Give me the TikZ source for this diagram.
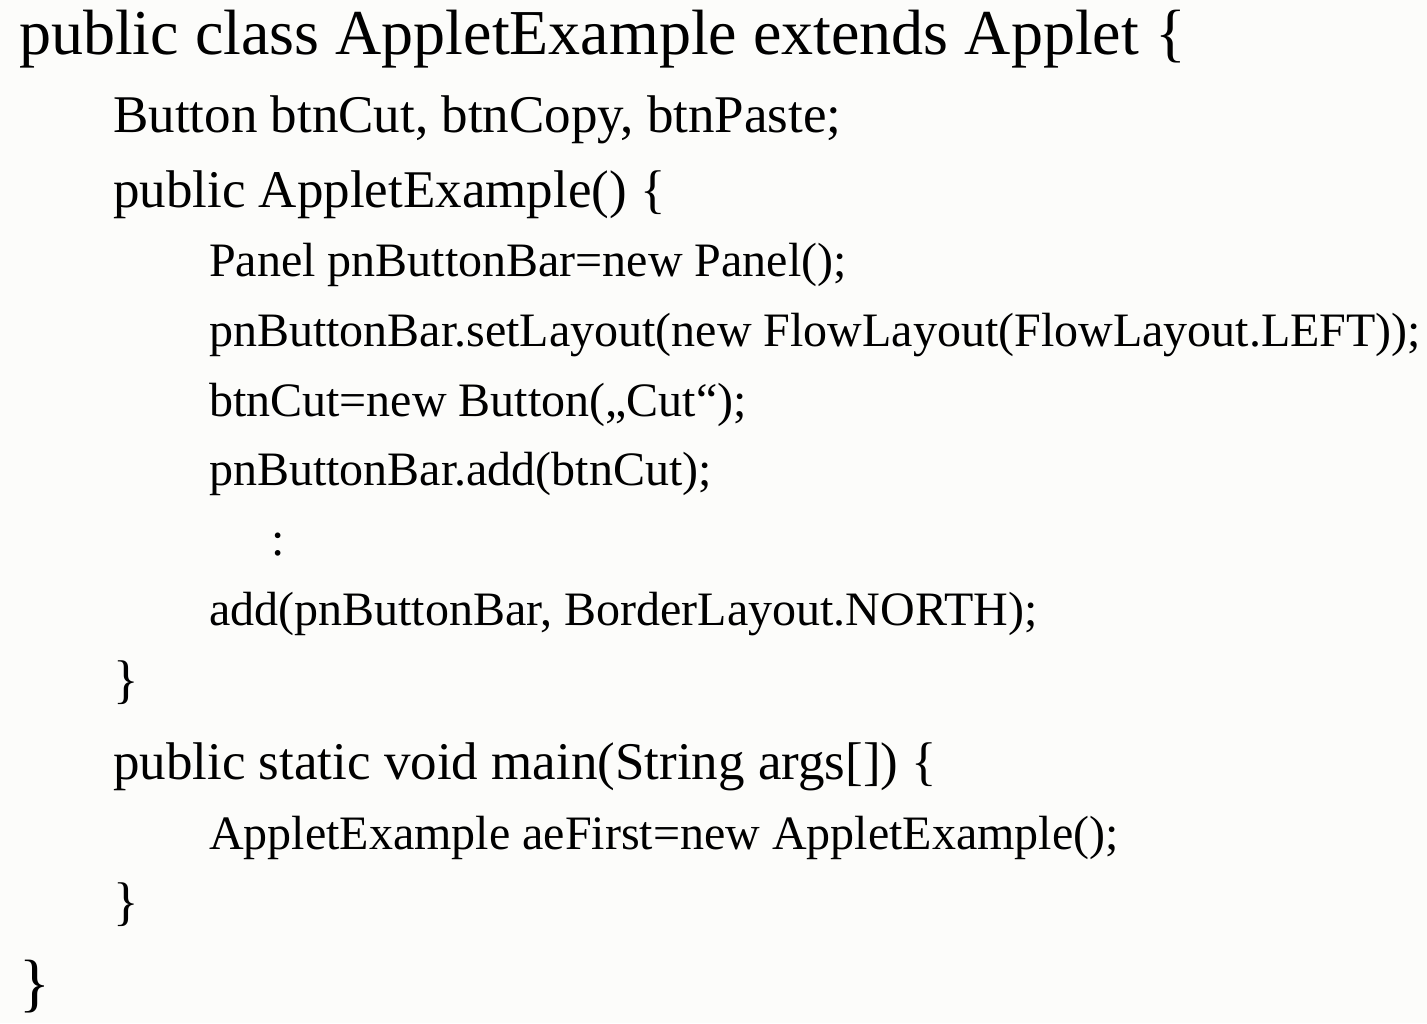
\documentclass[tikz,border=0pt]{standalone}
\usepackage{fontspec}
\setmainfont{Liberation Serif}
\definecolor{bgpaper}{RGB}{252,252,250}
\begin{document}
\begin{tikzpicture}[x=1pt,y=-1pt,
  lA/.style={anchor=base west,inner sep=0pt,font=\fontsize{64}{68}\selectfont},
  lB/.style={anchor=base west,inner sep=0pt,font=\fontsize{53}{57}\selectfont},
  lC/.style={anchor=base west,inner sep=0pt,font=\fontsize{48}{52}\selectfont}]
\fill[bgpaper] (0,0) rectangle (1427,1023);
\useasboundingbox (0,0) rectangle (1427,1023);
\node[lA] (t1) at (19,54) {public class AppletExample extends Applet \{};
\node[lB] (t2) at (113,132) {Button btnCut, btnCopy, btnPaste;};
\node[lB] (t3) at (113,207) {public AppletExample() \{};
\node[lC] (t4) at (209,276) {Panel pnButtonBar=new Panel();};
\node[lC] (t5) at (209,346) {pnButtonBar.setLayout(new FlowLayout(FlowLayout.LEFT));};
\node[lC] (t6) at (209,416) {btnCut=new Button(„Cut“);};
\node[lC] (t7) at (209,485) {pnButtonBar.add(btnCut);};
\node[lC] (t8) at (271,555) {:};
\node[lC] (t9) at (209,625) {add(pnButtonBar, BorderLayout.NORTH);};
\node[lB] (t10) at (113,697) {\}};
\node[lB] (t11) at (113,779) {public static void main(String args[]) \{};
\node[lC] (t12) at (209,849) {AppletExample aeFirst=new AppletExample();};
\node[lB] (t13) at (113,919) {\}};
\node[lA] (t14) at (19,1004) {\}};
\end{tikzpicture}
\end{document}
